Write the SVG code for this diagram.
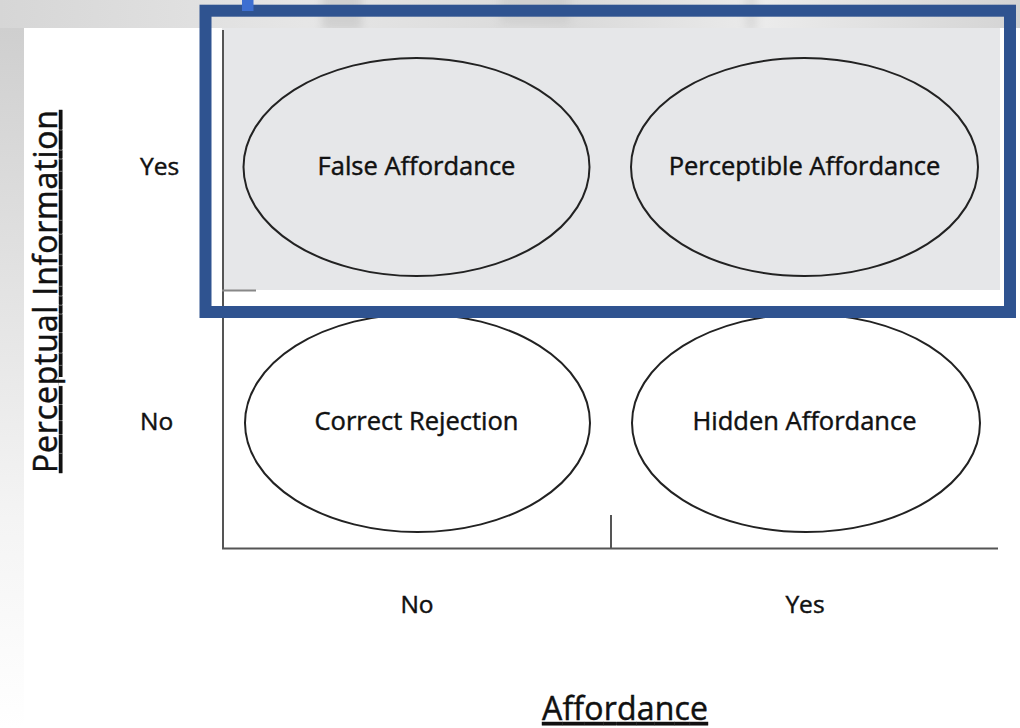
<svg xmlns="http://www.w3.org/2000/svg" width="1020" height="728" viewBox="0 0 1020 728">
  <defs>
    <linearGradient id="topBand" x1="0" y1="0" x2="1" y2="0">
      <stop offset="0" stop-color="#d6d6d6"/>
      <stop offset="0.3" stop-color="#e6e6e6"/>
      <stop offset="0.55" stop-color="#d9d9d9"/>
      <stop offset="0.75" stop-color="#ebebeb"/>
      <stop offset="1" stop-color="#d4d4d4"/>
    </linearGradient>
    <linearGradient id="leftBand" x1="0" y1="0" x2="0" y2="1">
      <stop offset="0" stop-color="#cfcfcf"/>
      <stop offset="0.7" stop-color="#f4f4f4"/>
      <stop offset="1" stop-color="#ffffff"/>
    </linearGradient>
    <filter id="soft" x="-20%" y="-50%" width="140%" height="200%">
      <feGaussianBlur stdDeviation="4"/>
    </filter>
    <style>
      .cell { stroke: #222; stroke-width: 2; }
      .label { font-family: "Open Sans", "Noto Sans", "Liberation Sans", sans-serif; fill: #111; stroke: #111; stroke-width: 0.45px; }
      .node-text { font-size: 25.5px; text-anchor: middle; }
      .tick-text { font-size: 24.5px; }
      .title { font-size: 32px; text-decoration: underline; }
      .axis { stroke: #555; stroke-width: 2; fill: none; }
    </style>
  </defs>

  <!-- page background: soft photo band on top, fading strip at left -->
  <rect x="0" y="0" width="1020" height="728" fill="#ffffff"/>
  <rect x="0" y="0" width="1020" height="28" fill="url(#topBand)"/>
  <g filter="url(#soft)" opacity="0.45">
    <rect x="322" y="-10" width="40" height="40" fill="#b8b8b8"/>
    <rect x="500" y="-10" width="70" height="34" fill="#c4c4c4"/>
    <rect x="745" y="-10" width="12" height="40" fill="#c8c8c8"/>
  </g>
  <rect x="0" y="28" width="24" height="700" fill="url(#leftBand)"/>

  <!-- shaded upper row -->
  <rect x="222" y="28" width="778" height="262" fill="#e6e7e9"/>

  <!-- axes and ticks -->
  <g id="connectors">
    <path class="axis" d="M223 30 V548.5 H998"/>
    <line class="axis" x1="611" y1="515" x2="611" y2="548"/>
    <line x1="222" y1="290.5" x2="256" y2="290.5" stroke="#888" stroke-width="2"/>
  </g>

  <g id="false-affordance">
    <ellipse class="cell" cx="416.5" cy="167" rx="173" ry="109" fill="none"/>
    <text class="label node-text" x="416.5" y="175">False Affordance</text>
  </g>
  <g id="perceptible-affordance">
    <ellipse class="cell" cx="804.5" cy="167" rx="173.5" ry="109" fill="none"/>
    <text class="label node-text" x="804.5" y="175">Perceptible Affordance</text>
  </g>
  <g id="correct-rejection">
    <ellipse class="cell" cx="417.5" cy="423" rx="172.5" ry="109" fill="#ffffff"/>
    <text class="label node-text" x="416.5" y="430">Correct Rejection</text>
  </g>
  <g id="hidden-affordance">
    <ellipse class="cell" cx="806" cy="423" rx="174" ry="109" fill="#ffffff"/>
    <text class="label node-text" x="804.5" y="430">Hidden Affordance</text>
  </g>

  <!-- axis values -->
  <g id="axis-values">
    <text class="label tick-text" x="140" y="175">Yes</text>
    <text class="label tick-text" x="140" y="430">No</text>
    <text class="label tick-text" x="417" y="613" text-anchor="middle">No</text>
    <text class="label tick-text" x="805" y="613" text-anchor="middle">Yes</text>
  </g>

  <!-- axis titles -->
  <g id="axis-titles">
    <text class="label title" x="625" y="720" text-anchor="middle" textLength="166">Affordance</text>
    <text class="label title" transform="translate(57 473) rotate(-90)" x="0" y="0" textLength="363">Perceptual Information</text>
  </g>

  <!-- highlight frame around the upper row -->
  <g id="highlight">
    <rect x="205.5" y="10.7" width="804.5" height="301.3" fill="none" stroke="#2f5390" stroke-width="12"/>
    <rect x="242" y="0" width="11.5" height="11" fill="#3d6fd1"/>
  </g>
</svg>
